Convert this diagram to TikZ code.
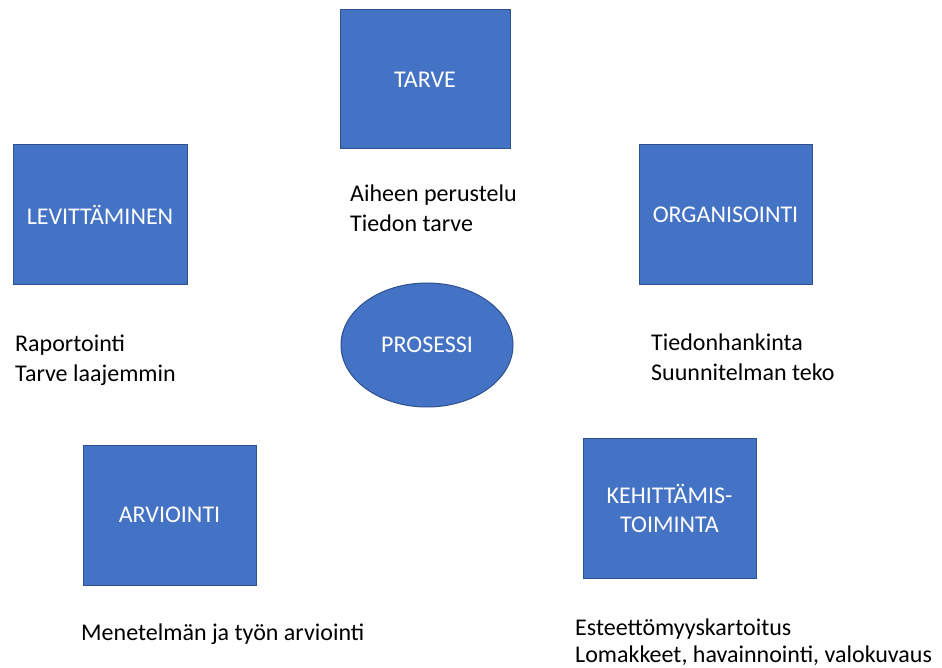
\documentclass[tikz,border=0pt]{standalone}
\usepackage{fontspec}
\setmainfont{Carlito}
\usetikzlibrary{shapes.geometric}
\definecolor{boxfill}{HTML}{4472C4}
\definecolor{boxline}{HTML}{2F528F}
\begin{document}
\begin{tikzpicture}[x=1pt,y=-1pt,
  box/.style={draw=boxline,fill=boxfill,line width=1pt,text=white,inner sep=0pt,
    font=\fontsize{24}{29}\selectfont,align=center},
  note/.style={anchor=base west,inner sep=0pt,align=left,
    font=\fontsize{24}{29.5}\selectfont,text=black}]
\useasboundingbox (0,0) rectangle (942,668);
\fill[white] (0,0) rectangle (942,668);
\node[box,minimum width=170pt,minimum height=139pt] (tarve) at (425,79.5) {TARVE};
\node[box,minimum width=174pt,minimum height=140pt] (lev) at (100,215) {LEVITTÄMINEN};
\node[box,minimum width=173pt,minimum height=140pt] (org) at (725.5,215) {ORGANISOINTI};
\node[box,ellipse,minimum width=172pt,minimum height=124pt] (pros) at (427,345) {PROSESSI};
\node[box,minimum width=173pt,minimum height=140pt] (arv) at (169.5,515) {ARVIOINTI};
\node[box,minimum width=173pt,minimum height=140pt] (keh) at (669.5,508) {KEHITTÄMIS-\\TOIMINTA};
\node[note] (t1) at (350,231.5) {Aiheen perustelu\\Tiedon tarve};
\node[note] (t2) at (15,381) {Raportointi\\Tarve laajemmin};
\node[note] (t3) at (651,380) {Tiedonhankinta\\Suunnitelman teko};
\node[note] (t4) at (81,640) {Menetelmän ja työn arviointi};
\node[note,font=\fontsize{24}{27}\selectfont] (t5) at (575,662) {Esteettömyyskartoitus\\Lomakkeet, havainnointi, valokuvaus};
\end{tikzpicture}
\end{document}
